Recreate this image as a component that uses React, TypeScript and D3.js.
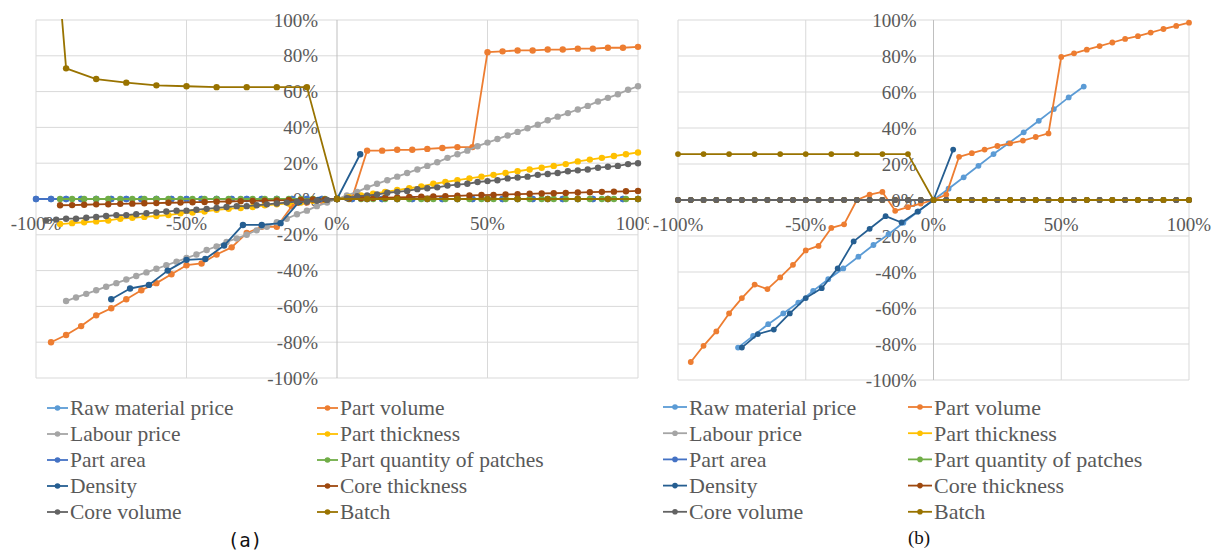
import React from "react";
import * as d3 from "d3";

// ---------- shared ----------
const seriesNames = [
  "Raw material price",
  "Part volume",
  "Labour price",
  "Part thickness",
  "Part area",
  "Part quantity of patches",
  "Density",
  "Core thickness",
  "Core volume",
  "Batch",
];
const palette = ["#5B9BD5", "#ED7D31", "#A5A5A5", "#FFC000", "#4472C4", "#70AD47", "#255E91", "#9E480E", "#636363", "#997300"];

const xTickValues = [-100, -50, 0, 50, 100];
const yTickValues = [-100, -80, -60, -40, -20, 0, 20, 40, 60, 80, 100];

// ---------- panel (a) data ----------
const aStep5X = [-100, -95, -90, -85, -80, -75, -70, -65, -60, -55, -50, -45, -40, -35, -30, -25, -20, -15, -10, -5, 0, 5, 10, 15, 20, 25, 30, 35, 40, 45, 50, 55, 60, 65, 70, 75, 80, 85, 90, 95, 100];
const aRawY = [0, 0, 0, 0, 0, 0, 0, 0, 0, 0, 0, 0, 0, 0, 0, 0, 0, 0, 0, 0, 0, 0, 0, 0, 0, 0, 0, 0, 0, 0, 0, 0, 0, 0, 0, 0, 0, 0, 0, 0, 0];
const aAreaY = [0, 0, 0, 0, 0, 0, 0, 0, 0, 0, 0, 0, 0, 0, 0, 0, 0, 0, 0, 0, 0, 0, 0, 0, 0, 0, 0, 0, 0, 0, 0, 0, 0, 0, 0, 0, 0, 0, 0, 0, 0];

const aVolX = [-95, -90, -85, -80, -75, -70, -65, -60, -55, -50, -45, -40, -35, -30, -25, -20, -15, -10, -5, 0, 5, 10, 15, 20, 25, 30, 35, 40, 45, 50, 55, 60, 65, 70, 75, 80, 85, 90, 95, 100];
const aVolY = [-80, -76, -71, -65, -61, -56, -51, -47, -42, -37, -36, -31, -27, -19, -15.5, -15.5, -4, -2, -1, 0, 0.5, 27, 27, 27.5, 27.5, 28, 28.5, 29, 29, 82, 82.5, 83, 83, 83.5, 83.5, 84, 84, 84.5, 84.5, 85];

const aLabX = [-90, -86.7, -83.3, -80, -76.7, -73.3, -70, -66.7, -63.3, -60, -56.7, -53.3, -50, -46.7, -43.3, -40, -36.7, -33.3, -30, -26.7, -23.3, -20, -16.7, -13.3, -10, -6.7, -3.3, 0, 3.3, 6.7, 10, 13.3, 16.7, 20, 23.3, 26.7, 30, 33.3, 36.7, 40, 43.3, 46.7, 50, 53.3, 56.7, 60, 63.3, 66.7, 70, 73.3, 76.7, 80, 83.3, 86.7, 90, 93.3, 96.7, 100];
const aLabY = [-57, -55, -53, -51, -49, -47, -45, -43, -41, -39, -37, -35, -33, -31, -28.5, -26.5, -24, -22, -20, -17.5, -15.5, -13, -11, -8.5, -6.5, -4, -2, 0, 2, 4, 6.5, 8.5, 10.5, 12.5, 14.5, 16.5, 18.5, 20.5, 23, 25, 27, 29.5, 31.5, 33.5, 35.5, 37.5, 39.5, 41.5, 44, 46, 48, 50, 52, 54.5, 56.5, 58.5, 61, 63];

const aStep4X = [-92, -88, -84, -80, -76, -72, -68, -64, -60, -56, -52, -48, -44, -40, -36, -32, -28, -24, -20, -16, -12, -8, -4, 0, 4, 8, 12, 16, 20, 24, 28, 32, 36, 40, 44, 48, 52, 56, 60, 64, 68, 72, 76, 80, 84, 88, 92, 96, 100];
const aThickY = [-14, -13.5, -13, -12.5, -12, -11, -10.5, -10, -9.5, -9, -8, -7.5, -7, -6, -5.5, -5, -4.5, -3.5, -3, -2.5, -2, -1, -0.5, 0, 1, 2, 3, 4, 5, 6, 7, 8.5, 9.5, 10.5, 11.5, 12.5, 13.5, 14.5, 15.5, 16.5, 17.5, 18.5, 19.5, 21, 22, 23, 24, 25, 26];
const aPatchY = [0, 0, 0, 0, 0, 0, 0, 0, 0, 0, 0, 0, 0, 0, 0, 0, 0, 0, 0, 0, 0, 0, 0, 0, 0, 0, 0, 0, 0, 0, 0, 0, 0, 0, 0, 0, 0, 0, 0, 0, 0, 0, 0, 0, 0, 0, 0, 0, 0];
const aCoreThY = [-3.5, -3.4, -3.2, -3, -2.9, -2.7, -2.6, -2.4, -2.3, -2.1, -2, -1.8, -1.7, -1.5, -1.4, -1.2, -1.1, -0.9, -0.8, -0.6, -0.5, -0.3, -0.2, 0, 0.2, 0.4, 0.5, 0.7, 0.9, 1.1, 1.3, 1.4, 1.6, 1.8, 2, 2.2, 2.3, 2.5, 2.7, 2.9, 3.1, 3.2, 3.4, 3.6, 3.8, 4, 4.1, 4.3, 4.5];

const aDensX = [-75, -68.75, -62.5, -56.25, -50, -43.75, -37.5, -31.25, -25, -18.75, -12.5, -6.25, 0, 7.7];
const aDensY = [-56, -50, -48, -40, -34, -33.5, -26, -14.5, -14.5, -13.5, -1.5, -0.5, 0, 25];

const aCoreVolX = [-96.7, -93.3, -90, -86.7, -83.3, -80, -76.7, -73.3, -70, -66.7, -63.3, -60, -56.7, -53.3, -50, -46.7, -43.3, -40, -36.7, -33.3, -30, -26.7, -23.3, -20, -16.7, -13.3, -10, -6.7, -3.3, 0, 3.3, 6.7, 10, 13.3, 16.7, 20, 23.3, 26.7, 30, 33.3, 36.7, 40, 43.3, 46.7, 50, 53.3, 56.7, 60, 63.3, 66.7, 70, 73.3, 76.7, 80, 83.3, 86.7, 90, 93.3, 96.7, 100];
const aCoreVolY = [-12, -11.5, -11, -11, -10.5, -10, -9.5, -9, -9, -8.5, -8, -7.5, -7, -6.5, -6.5, -6, -5.5, -5, -4.5, -4, -4, -3.5, -3, -2.5, -2, -1.5, -1.5, -1, -0.5, 0, 0.5, 1.5, 2, 2.5, 3.5, 4, 4.5, 5.5, 6, 6.5, 7.5, 8, 8.5, 9.5, 10, 10.5, 11.5, 12, 12.5, 13.5, 14, 14.5, 15.5, 16, 16.5, 17.5, 18, 18.5, 19.5, 20];

const aBatchX = [-95, -90, -80, -70, -60, -50, -40, -30, -20, -10, 0, 10, 20, 30, 40, 50, 60, 70, 80, 90, 100];
const aBatchY = [175, 73, 67, 65, 63.5, 63, 62.5, 62.5, 62.5, 62.5, 0, 0, 0, 0, 0, 0, 0, 0, 0, 0, 0];

// ---------- panel (b) data ----------
const bRawX = [-76.5, -70.6, -64.7, -58.8, -52.9, -47.1, -41.2, -35.3, -29.4, -23.5, -17.6, -11.8, -5.9, 0, 5.9, 11.8, 17.6, 23.5, 29.4, 35.3, 41.2, 47.1, 52.9, 58.8];
const bRawY = [-82, -75.5, -69, -63, -57, -50.5, -44, -38, -31.5, -25, -19, -12.6, -6.3, 0, 6.3, 12.6, 19, 25.5, 31.5, 37.6, 44, 50.5, 57, 63];

const bVolX = [-95, -90, -85, -80, -75, -70, -65, -60, -55, -50, -45, -40, -35, -30, -25, -20, -15, -10, -5, 0, 5, 10, 15, 20, 25, 30, 35, 40, 45, 50, 55, 60, 65, 70, 75, 80, 85, 90, 95, 100];
const bVolY = [-90, -81, -73, -63, -54.5, -47, -49.5, -43, -36, -28, -25.5, -15.5, -13.5, 0, 3, 4.5, -6, -4, -2, 0, 3, 24, 26, 28, 30, 31.5, 33, 35, 37, 79.5, 81.5, 83.5, 85.5, 87.5, 89.5, 91, 93, 95, 96.7, 98.5];

const bFlatX = [-100, -95, -90, -85, -80, -75, -70, -65, -60, -55, -50, -45, -40, -35, -30, -25, -20, -15, -10, -5, 0, 5, 10, 15, 20, 25, 30, 35, 40, 45, 50, 55, 60, 65, 70, 75, 80, 85, 90, 95, 100];
const bFlatY = [0, 0, 0, 0, 0, 0, 0, 0, 0, 0, 0, 0, 0, 0, 0, 0, 0, 0, 0, 0, 0, 0, 0, 0, 0, 0, 0, 0, 0, 0, 0, 0, 0, 0, 0, 0, 0, 0, 0, 0, 0];

const bDensX = [-75, -68.75, -62.5, -56.25, -50, -43.75, -37.5, -31.25, -25, -18.75, -12.5, -6.25, 0, 7.7];
const bDensY = [-82, -74.5, -72, -63, -54.5, -49, -38, -23, -16, -9, -12.5, -6.5, 0, 28];

const bBatchX = [-100, -90, -80, -70, -60, -50, -40, -30, -20, -10, 0, 10, 20, 30, 40, 50, 60, 70, 80, 90, 100];
const bBatchY = [25.5, 25.5, 25.5, 25.5, 25.5, 25.5, 25.5, 25.5, 25.5, 25.5, 0, 0, 0, 0, 0, 0, 0, 0, 0, 0, 0];

type Series = { xs: number[]; ys: number[] };

const panelASeries: Series[] = [
  { xs: aStep5X, ys: aRawY },
  { xs: aVolX, ys: aVolY },
  { xs: aLabX, ys: aLabY },
  { xs: aStep4X, ys: aThickY },
  { xs: aStep5X, ys: aAreaY },
  { xs: aStep4X, ys: aPatchY },
  { xs: aDensX, ys: aDensY },
  { xs: aStep4X, ys: aCoreThY },
  { xs: aCoreVolX, ys: aCoreVolY },
  { xs: aBatchX, ys: aBatchY },
];

const panelBSeries: Series[] = [
  { xs: bRawX, ys: bRawY },
  { xs: bVolX, ys: bVolY },
  { xs: bFlatX, ys: bFlatY },
  { xs: bFlatX, ys: bFlatY },
  { xs: bFlatX, ys: bFlatY },
  { xs: bFlatX, ys: bFlatY },
  { xs: bDensX, ys: bDensY },
  { xs: bFlatX, ys: bFlatY },
  { xs: bFlatX, ys: bFlatY },
  { xs: bBatchX, ys: bBatchY },
];

type PanelCfg = {
  id: string;
  series: Series[];
  xRange: [number, number];
  yRange: [number, number];
  yLabelGap: number;
  clipRight: number;
  clipLeft: number;
  r: number;
  legendCols: [number, number];
  legendRow0: number;
  legendRowStep: number;
  legendFont: number;
  lineLen: number;
};

const serifStyle = { fontFamily: '"Liberation Serif"' };

function Panel({ cfg }: { cfg: PanelCfg }) {
  const x = d3.scaleLinear().domain([-100, 100]).range(cfg.xRange);
  const y = d3.scaleLinear().domain([100, -100]).range(cfg.yRange);
  const line = d3
    .line<[number, number]>()
    .x((d) => x(d[0]))
    .y((d) => y(d[1]));
  const [px0, px1] = cfg.xRange;
  const [py0, py1] = cfg.yRange;
  const x0 = x(0);
  const y0 = y(0);
  return (
    <g>
      <defs>
        <clipPath id={`panel-${cfg.id}`}>
          <rect x={cfg.clipLeft} y={0} width={cfg.clipRight - cfg.clipLeft} height={557} />
        </clipPath>
        <clipPath id={`plot-${cfg.id}`}>
          <rect x={px0 - 6} y={py0 - 1} width={px1 - px0 + 12} height={py1 - py0 + 2} />
        </clipPath>
      </defs>
      <g clipPath={`url(#panel-${cfg.id})`}>
        {yTickValues.map((v) => (
          <line key={`gy${v}`} x1={px0} x2={px1} y1={y(v)} y2={y(v)} stroke="#D9D9D9" strokeWidth={1} />
        ))}
        {xTickValues.map((v) => (
          <line key={`gx${v}`} x1={x(v)} x2={x(v)} y1={py0} y2={py1} stroke={v === 0 ? "#BFBFBF" : "#D9D9D9"} strokeWidth={1} />
        ))}
        {yTickValues.map((v) => (
          <text
            key={`ly${v}`}
            x={x0 - cfg.yLabelGap}
            y={y(v)}
            textAnchor="end"
            dominantBaseline="central"
            style={serifStyle}
            fontSize={19}
            fill="#595959"
          >
            {`${v}%`}
          </text>
        ))}
        {xTickValues.map((v) => (
          <text
            key={`lx${v}`}
            x={x(v)}
            y={y0 + 24}
            textAnchor="middle"
            dominantBaseline="central"
            style={serifStyle}
            fontSize={19}
            fill="#595959"
          >
            {`${v}%`}
          </text>
        ))}
        <g clipPath={`url(#plot-${cfg.id})`}>
          {cfg.series.map((s, i) => {
            const pts: [number, number][] = s.xs.map((xv, j) => [xv, s.ys[j]]);
            return (
              <g key={`s${i}`}>
                <path d={line(pts) || ""} fill="none" stroke={palette[i]} strokeWidth={1.8} strokeLinejoin="round" />
                {pts.map((p, j) => (
                  <circle key={j} cx={x(p[0])} cy={y(p[1])} r={cfg.r} fill={palette[i]} />
                ))}
              </g>
            );
          })}
        </g>
        {seriesNames.map((name, i) => {
          const col = i % 2;
          const row = Math.floor(i / 2);
          const lx = cfg.legendCols[col];
          const ly = cfg.legendRow0 + row * cfg.legendRowStep;
          return (
            <g key={`lg${i}`}>
              <line x1={lx} x2={lx + cfg.lineLen} y1={ly} y2={ly} stroke={palette[i]} strokeWidth={1.8} />
              <circle cx={lx + cfg.lineLen / 2} cy={ly} r={2.8} fill={palette[i]} />
              <text
                x={lx + cfg.lineLen + 2}
                y={ly}
                dominantBaseline="central"
                style={serifStyle}
                fontSize={cfg.legendFont}
                fill="#595959"
              >
                {name}
              </text>
            </g>
          );
        })}
      </g>
    </g>
  );
}

const panelA: PanelCfg = {
  id: "a",
  series: panelASeries,
  xRange: [36, 638],
  yRange: [20, 378],
  yLabelGap: 19,
  clipLeft: 0,
  clipRight: 649,
  r: 3.2,
  legendCols: [47, 317],
  legendRow0: 408,
  legendRowStep: 26,
  legendFont: 21.5,
  lineLen: 21,
};

const panelB: PanelCfg = {
  id: "b",
  series: panelBSeries,
  xRange: [678, 1189],
  yRange: [20, 380],
  yLabelGap: 17,
  clipLeft: 649,
  clipRight: 1219,
  r: 2.9,
  legendCols: [663, 908],
  legendRow0: 407,
  legendRowStep: 26.2,
  legendFont: 22,
  lineLen: 24,
};

export default function App() {
  return (
    <svg
      width={1219}
      height={557}
      viewBox="0 0 1219 557"
      style={{ position: "absolute", left: 0, top: 0, background: "#fff" }}
    >
      <rect x={0} y={0} width={1219} height={557} fill="#fff" />
      <Panel cfg={panelA} />
      <Panel cfg={panelB} />
      <text x={245} y={540} textAnchor="middle" dominantBaseline="central" style={{ fontFamily: '"DejaVu Sans Mono"' }} fontSize={19} fill="#111">
        (a)
      </text>
      <text x={919} y={537} textAnchor="middle" dominantBaseline="central" style={serifStyle} fontSize={19} fill="#111">
        (b)
      </text>
    </svg>
  );
}
